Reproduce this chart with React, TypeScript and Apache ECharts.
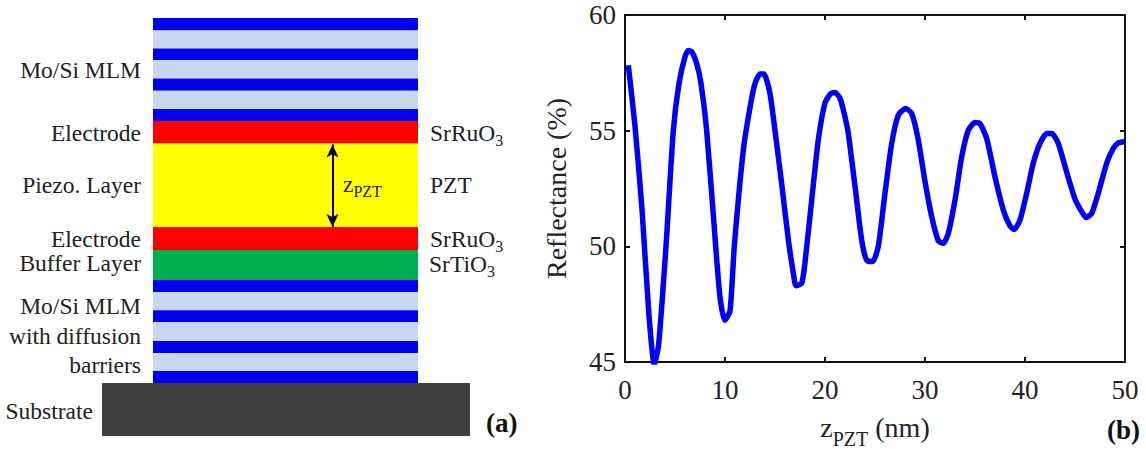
import React, { useEffect, useRef } from "react";
import * as echarts from "echarts";

const FONT = "Liberation Serif";

// Panel (b): reflectance curve
const zPzt = [0.33,1,1.7,2.4,2.93,3.35,4.1,4.83,5.4,6,6.35,6.7,7.17,7.6,8.17,9.07,9.5,9.97,10.5,10.93,11.83,12.5,13,13.5,13.9,14.5,15,15.67,16.33,16.83,17.1,17.67,18,18.67,19.33,20,20.57,21,21.5,22,22.33,23,23.67,24.17,24.77,25.33,26,26.67,27.33,28.07,28.67,29.33,30,30.67,31.33,31.83,32.33,33,33.67,34.33,35,35.5,36.17,37,37.83,38.5,38.93,39.5,40.17,40.83,41.5,42.17,42.67,43.33,44.17,45,45.67,46.1,46.67,47.33,48.17,48.83,49.33,50];
const reflectance = [57.83,55.2,51.6,47,44.9,45.7,50,55,57.04,58.2,58.47,58.4,57.9,57.04,55,50,47.8,46.8,47.2,50,54.15,56,57.04,57.45,57.45,56.6,55,52.7,50.3,48.85,48.3,48.4,49.3,52,54.6,56.2,56.6,56.65,56.4,55.6,54.88,52.6,50.27,49.4,49.34,50,52.3,54.45,55.67,55.96,55.74,54.6,52.8,51.28,50.24,50.13,50.56,52,53.87,55.02,55.35,55.3,54.66,53,51.57,50.88,50.73,51.14,52.3,53.6,54.45,54.88,54.88,54.45,53.2,52.05,51.5,51.25,51.42,52.3,53.6,54.23,54.47,54.52];

// Panel (a): layer stack from top to bottom
const layerKinds = ["mo","si","mo","si","mo","si","mo","electrode","pzt","electrode","buffer","mo","si","mo","si","mo","si","mo"];
const layerThickness = [12.5,18,11.5,18.5,12.2,18.3,12,22.5,83.5,23,30,12,18.3,11.7,19,12,18,12];
const substrateThickness = [53];
const leftLabels = ["Mo/Si MLM","Electrode","Piezo. Layer","Electrode","Buffer Layer","Mo/Si MLM","with diffusion","barriers"];

const layerColors: Record<string, string> = {
  mo: "#0000f0", si: "#c6d9f1", electrode: "#ff0000", pzt: "#ffff00", buffer: "#00b050", substrate: "#404040",
};

const sub = { fontFamily: FONT, fontSize: 16, fill: "#222", padding: [15, 0, 0, 0] };
const main = { fontFamily: FONT, fontSize: 23.5, fill: "#222" };

function label(text: string, x: number, y: number, align = "right", extra: any = {}) {
  return { type: "text", x, y, z: 100, silent: true, style: { text, align, verticalAlign: "middle", font: `23.5px "${FONT}"`, fill: "#222", ...extra } };
}
function chem(base: string, tail: string, x: number, y: number) {
  return {
    type: "text", x, y, z: 100, silent: true,
    style: {
      text: `{m|${base}}{s|${tail}}`, align: "left", verticalAlign: "middle",
      rich: { m: main, s: sub },
    },
  };
}

export default function App() {
  const ref = useRef<HTMLDivElement>(null);
  useEffect(() => {
    const chart = echarts.init(ref.current!, undefined, { renderer: "svg" });
    const leftY = [70, 133, 185, 239, 263, 306, 336, 365];

    // cumulative layer rows for the custom series: [index, top, bottom]
    let depth = 0;
    const rows = layerKinds.map((kind, i) => {
      const row = [i, depth, depth + layerThickness[i]];
      depth += layerThickness[i];
      return row;
    });
    rows.push([layerKinds.length, depth, depth + substrateThickness[0]]);

    const plotAxisLine = { show: true, onZero: false, lineStyle: { color: "#111", width: 2 } };
    const plotTick = { show: true, inside: true, length: 5, lineStyle: { color: "#111", width: 2 } };
    const tickLabel = { color: "#222", fontFamily: FONT, fontSize: 27 };

    chart.setOption({
      animation: false,
      backgroundColor: "#fff",
      grid: [
        { left: 625, top: 15, width: 500, height: 347, outerBoundsMode: "none" },
        { left: 102, top: 18, width: 368, height: 418, outerBoundsMode: "none" },
      ],
      xAxis: [
        {
          gridIndex: 0, type: "value", min: 0, max: 50, interval: 10, position: "bottom",
          axisLine: plotAxisLine, axisTick: plotTick, splitLine: { show: false },
          axisLabel: { ...tickLabel, margin: 14 },
          name: "{z|z}{p|PZT}{n| (nm)}", nameLocation: "middle", nameGap: 43,
          nameTextStyle: {
            rich: {
              z: { fontFamily: FONT, fontSize: 28, color: "#222" },
              p: { fontFamily: FONT, fontSize: 20, color: "#222", padding: [24, 0, 0, 0] },
              n: { fontFamily: FONT, fontSize: 28, color: "#222" },
            },
          },
        },
        {
          gridIndex: 0, type: "value", min: 0, max: 50, interval: 10, position: "top",
          axisLine: plotAxisLine, axisTick: plotTick, axisLabel: { show: false }, splitLine: { show: false },
        },
        { gridIndex: 1, type: "value", min: 0, max: 368, show: false },
      ],
      yAxis: [
        {
          gridIndex: 0, type: "value", min: 45, max: 60, interval: 5, position: "left",
          axisLine: plotAxisLine, axisTick: plotTick, splitLine: { show: false },
          axisLabel: { ...tickLabel, margin: 9 },
          name: "Reflectance (%)", nameLocation: "middle", nameGap: 55,
          nameTextStyle: { fontFamily: FONT, fontSize: 28, color: "#222" },
        },
        {
          gridIndex: 0, type: "value", min: 45, max: 60, interval: 5, position: "right",
          axisLine: plotAxisLine, axisTick: plotTick, axisLabel: { show: false }, splitLine: { show: false },
        },
        { gridIndex: 1, type: "value", min: 0, max: 418, inverse: true, show: false },
      ],
      series: [
        {
          type: "line", xAxisIndex: 0, yAxisIndex: 0, showSymbol: false, clip: true, silent: true,
          smooth: 0.2,
          data: zPzt.map((z, i) => [z, reflectance[i]]),
          lineStyle: { color: "#0000f5", width: 5.5, join: "round", cap: "butt" },
        },
        {
          type: "custom", xAxisIndex: 2, yAxisIndex: 2, silent: true, clip: false,
          data: rows,
          encode: { x: [], y: [1, 2] },
          renderItem: (_p: any, api: any) => {
            const i = api.value(0);
            const kind = layerKinds[i] ?? "substrate";
            const isSub = kind === "substrate";
            const p0 = api.coord([isSub ? 0 : 51, api.value(1)]);
            const p1 = api.coord([isSub ? 368 : 316, api.value(2)]);
            return {
              type: "rect",
              shape: { x: p0[0], y: p0[1], width: p1[0] - p0[0], height: p1[1] - p0[1] },
              style: { fill: layerColors[kind] },
            };
          },
          markLine: {
            silent: true, symbol: ["arrow", "arrow"], symbolSize: [9, 13], label: { show: false },
            lineStyle: { color: "#000", width: 2, type: "solid" },
            data: [[{ coord: [230.5, 126.5] }, { coord: [230.5, 209] }]],
          },
        },
      ],
      graphic: [
        ...leftLabels.map((t, i) => label(t, 141, leftY[i])),
        label("Substrate", 93, 411),
        chem("SrRuO", "3", 430, 133),
        label("PZT", 430, 185, "left"),
        chem("SrRuO", "3", 430, 239),
        chem("SrTiO", "3", 429, 264),
        chem("z", "PZT", 343, 184),
        label("(a)", 486, 423, "left", { font: `bold 27px "${FONT}"`, fill: "#111" }),
        label("(b)", 1107, 430, "left", { font: `bold 27px "${FONT}"`, fill: "#111" }),
      ],
    });
    return () => chart.dispose();
  }, []);
  return <div ref={ref} style={{ position: "fixed", left: 0, top: 0, width: 1146, height: 449 }} />;
}
